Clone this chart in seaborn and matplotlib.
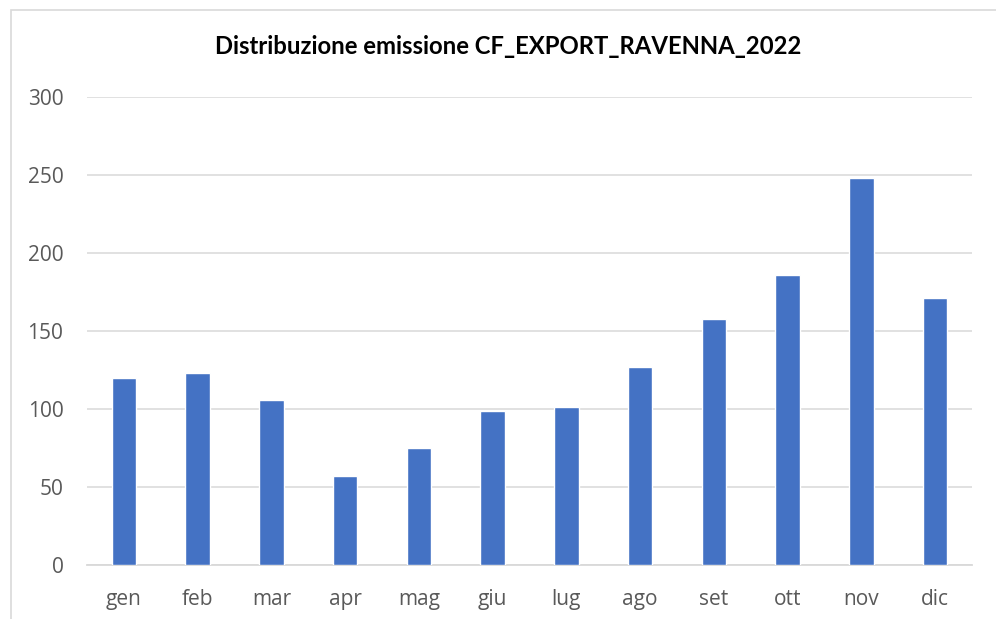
import matplotlib.pyplot as plt
import matplotlib.patches as mpatches
import pandas as pd
import seaborn as sns

# dati
mesi = ['gen', 'feb', 'mar', 'apr', 'mag', 'giu', 'lug', 'ago', 'set', 'ott', 'nov', 'dic']
emissioni = [120, 123, 106, 57, 75, 99, 101, 127, 158, 186, 248, 171]
titolo = 'Distribuzione emissione CF_EXPORT_RAVENNA_2022'

df = pd.DataFrame({'mese': mesi, 'emissione': emissioni})

sns.set_style('white')
plt.rcParams['font.family'] = ['Open Sans', 'DejaVu Sans']

fig = plt.figure(figsize=(9.96, 6.19), dpi=100)
ax = fig.add_axes([87 / 996, 1 - 565 / 619, (972 - 87) / 996, (565 - 97) / 619])

sns.barplot(data=df, x='mese', y='emissione', color='#4472C4', width=0.33,
            saturation=1, ax=ax, zorder=3)

ax.set_ylim(0, 300)
ax.set_yticks(range(0, 301, 50))
ax.set_xlim(-0.5, len(mesi) - 0.5)
ax.grid(axis='y', color='#D9D9D9', linewidth=1.1, zorder=0)
ax.grid(axis='x', visible=False)
for s in ['top', 'right', 'left']:
    ax.spines[s].set_visible(False)
ax.spines['bottom'].set_color('#D9D9D9')
ax.spines['bottom'].set_linewidth(1.3)
ax.tick_params(axis='y', length=0, pad=17, labelsize=15, labelcolor='#595959')
ax.tick_params(axis='x', length=0, pad=17, labelsize=15, labelcolor='#595959')
ax.set_xlabel('')
ax.set_ylabel('')

fig.text(0.51, 1 - 47 / 619, titolo, ha='center', va='center',
         fontsize=17.2, fontweight='bold', color='black', family=['Lato', 'DejaVu Sans'])

# cornice del grafico
cornice = mpatches.Rectangle((11 / 996, -0.05), 1.2, 1 - 10 / 619 + 0.05,
                             transform=fig.transFigure, fill=False,
                             edgecolor='#D9D9D9', linewidth=1.2)
fig.patches.append(cornice)

fig.savefig('out.png', dpi=100)
